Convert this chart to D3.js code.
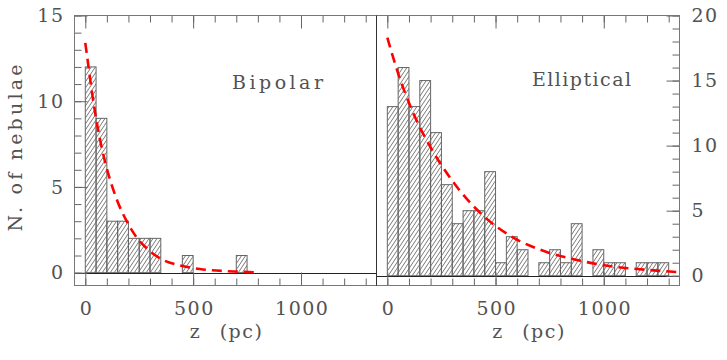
<!DOCTYPE html>
<html>
<head>
<meta charset="utf-8">
<script src="https://cdn.jsdelivr.net/npm/d3@7"></script>
<style>
	body { margin: 0; background: #fff; }
	svg text { font-family: "DejaVu Serif", "Liberation Serif", serif; font-size: 19px; fill: #525252; letter-spacing: 1.5px; }
	svg text.fitted { letter-spacing: 0; }
	svg text.xtitle { letter-spacing: 1.5px; word-spacing: 11px; }
</style>
</head>
<body>
<svg id="chart-svg" width="727" height="360"></svg>
<script>
// histogram bins (pc), 50 pc wide
const BIN_STARTS = [0, 50, 100, 150, 200, 250, 300, 350, 400, 450, 500, 550, 600, 650,
	700, 750, 800, 850, 900, 950, 1000, 1050, 1100, 1150, 1200, 1250, 1300];
const BIN_WIDTH = 50;

const BIPOLAR_COUNTS = [12, 9, 3, 3, 2, 2, 2, 0, 0, 1, 0, 0, 0, 0,
	1, 0, 0, 0, 0, 0, 0, 0, 0, 0, 0, 0, 0];
const ELLIPTICAL_COUNTS = [13, 16, 13, 15, 11, 7, 4, 5, 5, 8, 1, 3, 2, 0,
	1, 2, 1, 4, 0, 2, 1, 1, 0, 1, 1, 1, 0];

// dashed fit curves
const BIPOLAR_FIT_Z = [0, 14, 30, 57, 76, 91, 145, 192, 222, 300, 361, 438, 531, 685, 801];
const BIPOLAR_FIT_N = [13.4, 12.1, 10.6, 8.5, 7.3, 6.5, 4.3, 3.0, 2.35, 1.25, 0.74, 0.42, 0.21, 0.07, 0.02];
const ELLIPTICAL_FIT_Z = [0, 51, 112, 204, 300, 442, 580, 733, 887, 1040, 1194, 1345];
const ELLIPTICAL_FIT_N = [18.3, 15.5, 12.8, 9.75, 7.3, 4.63, 2.95, 1.85, 1.17, 0.71, 0.46, 0.28];

const X_MAJOR = [0, 500, 1000];
const BIPOLAR_Y_MAJOR = [0, 5, 10, 15];
const ELLIPTICAL_Y_MAJOR = [0, 5, 10, 15, 20];

const svg = d3.select('#chart-svg');

// hatch pattern for the bars
const pw = 4, ph = 6;
svg.append('defs')
	.append('pattern')
	.attr('id', 'hatch')
	.attr('patternUnits', 'userSpaceOnUse')
	.attr('width', pw)
	.attr('height', ph)
	.append('path')
	.attr('d', `M0,${ph} L${pw},0 M${-pw / 2},${ph / 2} L${pw / 2},${-ph / 2} M${pw / 2},${ph * 1.5} L${pw * 1.5},${ph / 2}`)
	.attr('stroke', '#555')
	.attr('stroke-width', 0.8);

const TOP = 15.5, BOTTOM = 285.5;

const panels = [
	{
		x: d3.scaleLinear([-50, 1350], [74.5, 376.5]),
		y: d3.scaleLinear([-0.75, 15], [BOTTOM, TOP]),
		counts: BIPOLAR_COUNTS, fitZ: BIPOLAR_FIT_Z, fitN: BIPOLAR_FIT_N,
		yMajor: BIPOLAR_Y_MAJOR, yMax: 15, side: 'left',
		name: 'Bipolar', nameX: 232, nameY: 89, nameLen: 91
	},
	{
		x: d3.scaleLinear([-50, 1350], [376.5, 679.5]),
		y: d3.scaleLinear([-0.75, 20], [BOTTOM, TOP]),
		counts: ELLIPTICAL_COUNTS, fitZ: ELLIPTICAL_FIT_Z, fitN: ELLIPTICAL_FIT_N,
		yMajor: ELLIPTICAL_Y_MAJOR, yMax: 20, side: 'right',
		name: 'Elliptical', nameX: 532, nameY: 86, nameLen: 99
	}
];

function styleAxis(g) {
	g.select('.domain').remove();
	g.attr('font-family', null).attr('font-size', null);
	g.selectAll('.tick line').attr('stroke', '#666');
}

panels.forEach((p) => {
	const g = svg.append('g');
	const bins = BIN_STARTS.map((z, i) => ({ z: z, n: p.counts[i] })).filter((d) => d.n > 0);

	// bars
	g.selectAll('rect.bar')
		.data(bins)
		.enter()
		.append('rect')
		.attr('class', 'bar')
		.attr('x', (d) => p.x(d.z))
		.attr('y', (d) => p.y(d.n))
		.attr('width', (d) => p.x(d.z + BIN_WIDTH) - p.x(d.z))
		.attr('height', (d) => p.y(0) - p.y(d.n))
		.attr('fill', 'url(#hatch)')
		.attr('stroke', '#666')
		.attr('stroke-width', 1);

	// zero line
	g.append('line')
		.attr('x1', p.x.range()[0]).attr('x2', p.x.range()[1])
		.attr('y1', Math.round(p.y(0)) + 0.5).attr('y2', Math.round(p.y(0)) + 0.5)
		.attr('stroke', '#222');

	// x ticks, bottom and top
	const xMinor = d3.range(0, 1301, 100);
	g.append('g').attr('transform', `translate(0,${BOTTOM})`)
		.call(d3.axisBottom(p.x).tickValues(xMinor).tickSize(-7).tickFormat(''))
		.call(styleAxis);
	const xb = g.append('g').attr('transform', `translate(0,${BOTTOM})`)
		.call(d3.axisBottom(p.x).tickValues(X_MAJOR).tickSize(-13).tickPadding(16).tickFormat(d3.format('d')))
		.call(styleAxis);
	xb.selectAll('text').attr('dx', '0.75');
	g.append('g').attr('transform', `translate(0,${TOP})`)
		.call(d3.axisTop(p.x).tickValues(xMinor).tickSize(-7).tickFormat(''))
		.call(styleAxis);
	g.append('g').attr('transform', `translate(0,${TOP})`)
		.call(d3.axisTop(p.x).tickValues(X_MAJOR).tickSize(-13).tickFormat(''))
		.call(styleAxis);

	// y ticks on the outer side only
	const yMinor = d3.range(0, p.yMax + 1, 1);
	const edge = p.side === 'left' ? p.x.range()[0] : p.x.range()[1];
	const axisFn = p.side === 'left' ? d3.axisLeft : d3.axisRight;
	g.append('g').attr('transform', `translate(${edge},0)`)
		.call(axisFn(p.y).tickValues(yMinor).tickSize(-7).tickFormat(''))
		.call(styleAxis);
	g.append('g').attr('transform', `translate(${edge},0)`)
		.call(axisFn(p.y).tickValues(p.yMajor).tickSize(-13).tickPadding(p.side === 'left' ? 10 : 12))
		.call(styleAxis);

	// frame
	g.append('rect')
		.attr('x', p.x.range()[0]).attr('y', TOP)
		.attr('width', p.x.range()[1] - p.x.range()[0]).attr('height', BOTTOM - TOP)
		.attr('fill', 'none').attr('stroke', '#777');

	// fit curve
	const line = d3.line()
		.x((d, i) => p.x(p.fitZ[i]))
		.y((d) => p.y(d))
		.curve(d3.curveMonotoneX);
	g.append('path')
		.datum(p.fitN)
		.attr('d', line)
		.attr('fill', 'none')
		.attr('stroke', '#ff0000')
		.attr('stroke-width', 2.6)
		.attr('stroke-dasharray', '10 6');

	// panel label
	g.append('text')
		.attr('class', 'fitted')
		.attr('x', p.nameX).attr('y', p.nameY)
		.attr('textLength', p.nameLen).attr('lengthAdjust', 'spacing')
		.text(p.name);

	// x axis title
	g.append('text')
		.attr('class', 'xtitle')
		.attr('x', (p.x.range()[0] + p.x.range()[1]) / 2 + 1).attr('y', 338)
		.attr('text-anchor', 'middle')
		.text('z (pc)');
});

// shared divider
svg.append('line')
	.attr('x1', 376.5).attr('x2', 376.5).attr('y1', TOP).attr('y2', BOTTOM)
	.attr('stroke', '#333');

// y axis title
svg.append('text')
	.attr('class', 'fitted')
	.attr('transform', 'translate(22,148) rotate(-90)')
	.attr('text-anchor', 'middle')
	.attr('textLength', 167).attr('lengthAdjust', 'spacing')
	.text('N. of nebulae');
</script>
</body>
</html>
